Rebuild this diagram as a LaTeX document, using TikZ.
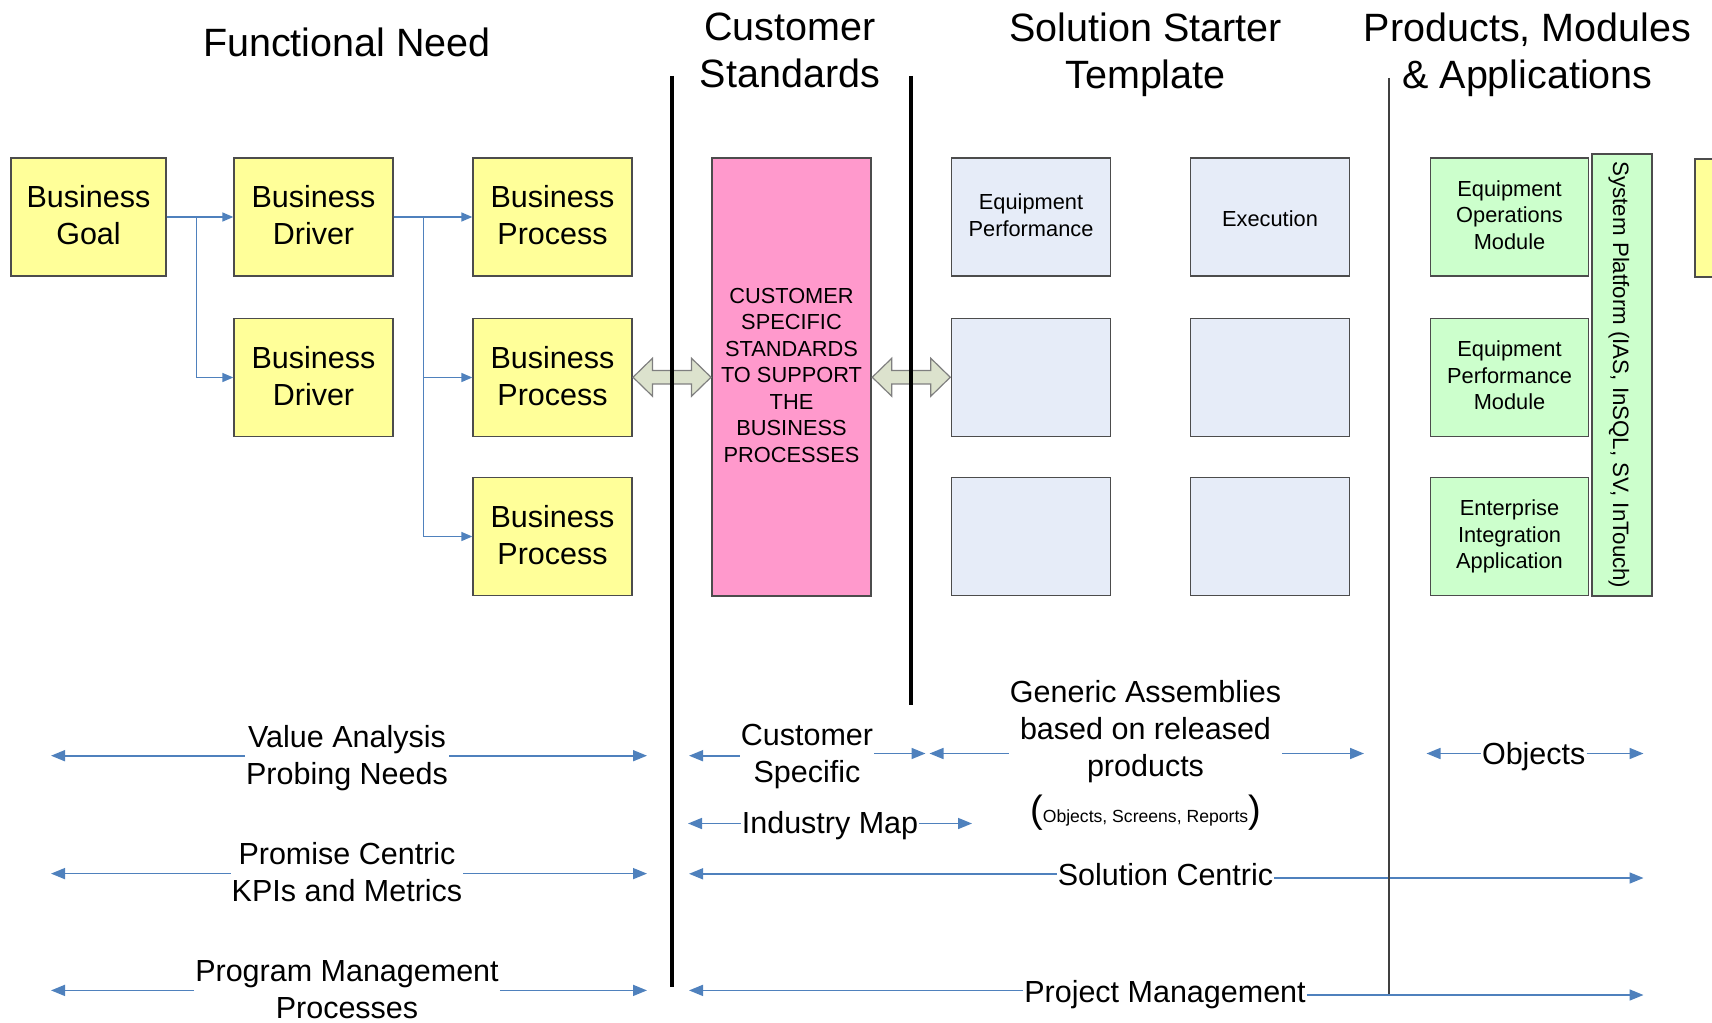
\documentclass[tikz,border=0pt]{standalone}
\usepackage{fontspec}
\setmainfont{Liberation Sans}
\usetikzlibrary{arrows.meta,calc}
\definecolor{yfill}{HTML}{FFFF99}
\definecolor{pfill}{HTML}{FF99CC}
\definecolor{bfill}{HTML}{E6ECF8}
\definecolor{gfill}{HTML}{CCFFCC}
\definecolor{aroblue}{HTML}{4F81BD}
\definecolor{afill}{HTML}{DCE2CD}
\definecolor{aedge}{HTML}{7F7F7F}
\newcommand\FntBox{\fontsize{30.5}{37}\selectfont}
\newcommand\FntTitle{\fontsize{39.5}{47}\selectfont}
\newcommand\FntSmall{\fontsize{21.8}{26.5}\selectfont}
\newcommand\FntSys{\fontsize{22.3}{26.5}\selectfont}
\newcommand\FntTiny{\fontsize{17.6}{21}\selectfont}
\newcommand\FntParen{\fontsize{38}{40}\selectfont}
\newcommand\BigTopStrut{\rule{0pt}{0.9\baselineskip}}
\newcommand\BigBotStrut{\rule[-0.1\baselineskip]{0pt}{0pt}}
\newcommand\SmlTopStrut{\rule{0pt}{0.85\baselineskip}}
\newcommand\SmlBotStrut{\rule[-0.15\baselineskip]{0pt}{0pt}}
\tikzset{
  boxbase/.style={draw=black!70, line width=1.3pt, minimum width=159pt, minimum height=118pt,
    align=center, inner sep=2pt},
  ybox/.style={boxbase, fill=yfill, font=\FntBox, execute at begin node=\BigTopStrut, execute at end node=\BigBotStrut},
  smlbox/.style={boxbase, font=\FntSmall, execute at begin node=\SmlTopStrut, execute at end node=\SmlBotStrut},
  pbox/.style={smlbox, fill=pfill, minimum height=438pt},
  bbox/.style={smlbox, fill=bfill},
  gbox/.style={smlbox, fill=gfill, minimum width=158pt},
  lbl/.style={align=center, inner sep=1pt, font=\FntBox, execute at begin node=\strut, execute at end node=\strut},
  ttl/.style={align=center, inner sep=0pt, font=\FntTitle, execute at begin node=\strut, execute at end node=\strut},
  conn/.style={draw=aroblue, line width=1.5pt, -{Triangle[length=11pt,width=9pt]}},
  barrow/.style={draw=aroblue, line width=1.6pt, -{Triangle[length=14pt,width=11pt]}},
  blockarrow/.style={draw=aedge, fill=afill, line width=1.2pt, line join=miter},
  divider/.style={line width=4.5pt, black},
  thinline/.style={line width=1.3pt, black!75},
  dblarrow/.pic={\path[blockarrow] (-39,0) -- (-19.5,-19) -- (-19.5,-6.7) -- (19.5,-6.7) -- (19.5,-19) -- (39,0) -- (19.5,19) -- (19.5,6.7) -- (-19.5,6.7) -- (-19.5,19) -- cycle;}
}
\begin{document}
\begin{tikzpicture}[x=1pt,y=-1pt]
\clip (0,0) rectangle (1712,1022);
% titles
\node[ttl] (tfn) at (347,47.2) {Functional Need};
\node[ttl] (tcs) at (790,57.7) {Customer\\Standards};
\node[ttl] (tss) at (1145.5,57.7) {Solution Starter\\Template};
\node[ttl] (tpm) at (1527.5,57.7) {Products, Modules\\\& Applications};
% functional need boxes
\node[ybox, minimum width=155pt] (goal) at (88.5,217) {Business\\Goal};
\node[ybox] (drv1) at (313.5,217) {Business\\Driver};
\node[ybox] (drv2) at (313.5,377.5) {Business\\Driver};
\node[ybox] (proc1) at (552.5,217) {Business\\Process};
\node[ybox] (proc2) at (552.5,377.5) {Business\\Process};
\node[ybox] (proc3) at (552.5,536.5) {Business\\Process};
% customer standards
\node[pbox] (cust) at (791.5,377) {CUSTOMER\\SPECIFIC\\STANDARDS\\TO SUPPORT\\THE\\BUSINESS\\PROCESSES};
% solution starter template
\node[bbox] (b11) at (1031,217) {Equipment\\Performance};
\node[bbox] (b21) at (1270,217) {Execution};
\node[bbox] (b12) at (1031,377.5) {};
\node[bbox] (b22) at (1270,377.5) {};
\node[bbox] (b13) at (1031,536.5) {};
\node[bbox] (b23) at (1270,536.5) {};
% products
\node[gbox] (g1) at (1509.5,217) {Equipment\\Operations\\Module};
\node[gbox] (g2) at (1509.5,377.5) {Equipment\\Performance\\Module};
\node[gbox] (g3) at (1509.5,536.5) {Enterprise\\Integration\\Application};
\node[gbox, font=\FntSys, rotate=-90, minimum width=442pt, minimum height=60pt] (sp) at (1622,375) {System Platform (IAS, InSQL, SV, InTouch)};
\path[draw=black!70, line width=1.3pt, fill=yfill] (1695,159) rectangle (1770,277);
% connectors
\draw[conn] (goal.east) -- (drv1.west);
\draw[conn] (goal.east) -- ++(29.7,0) |- (drv2.west);
\draw[conn] (drv1.east) -- (proc1.west);
\draw[conn] (drv1.east) -- ++(29.6,0) |- (proc2.west);
\draw[conn] (drv1.east) -- ++(29.6,0) |- (proc3.west);
% block arrows
\pic at ($(proc2.east)!0.5!(cust.west)$) {dblarrow};
\pic at ($(cust.east)!0.5!(b12.west)$) {dblarrow};
% dividers
\coordinate (d1t) at (672,76); \coordinate (d1b) at (672,987);
\coordinate (d2t) at (911,76); \coordinate (d2b) at (911,705);
\coordinate (d3t) at (1389,78); \coordinate (d3b) at (1389,994);
\draw[divider] (d1t) -- (d1b);
\draw[divider] (d2t) -- (d2b);
% bottom labels
\node[lbl] (va) at (347,760.5) {Value Analysis\\Probing Needs};
\node[lbl] (csp) at (807,759) {Customer\\Specific};
\node[lbl] (ga) at (1145.5,757) {Generic Assemblies\\based on released\\products\\[9pt]{\FntParen(}{\FntTiny Objects, Screens, Reports}{\FntParen)}};
\node[lbl] (obj) at (1533.7,757.5) {Objects};
\node[lbl] (im) at (830,826.5) {Industry Map};
\node[lbl] (pc) at (347,877) {Promise Centric\\KPIs and Metrics};
\node[lbl] (sc) at (1165.5,878.5) {Solution Centric};
\node[lbl] (pgm) at (347,995) {Program Management\\Processes};
\node[lbl] (pjm) at (1165,995.5) {Project Management};
% free ends
\coordinate (vaL) at (51,755.7); \coordinate (vaR) at (647,755.7);
\coordinate (cspL) at (689,755.7); \coordinate (cspR) at (925.5,753.5);
\coordinate (gaL) at (929.5,753.5); \coordinate (gaR) at (1364,753.5);
\coordinate (objL) at (1426.5,753.5); \coordinate (objR) at (1643.5,753.5);
\coordinate (imL) at (688,823.5); \coordinate (imR) at (972,823.5);
\coordinate (pcL) at (51,873.6); \coordinate (pcR) at (647,873.6);
\coordinate (scL) at (689,873.8); \coordinate (scR) at (1643.5,878);
\coordinate (pgL) at (51,990.4); \coordinate (pgR) at (647,990.4);
\coordinate (pjL) at (689,990.4); \coordinate (pjR) at (1643.5,995);
\draw[barrow] (va.west |- vaL) -- (vaL);
\draw[barrow] (va.east |- vaR) -- (vaR);
\draw[barrow] (csp.west |- cspL) -- (cspL);
\draw[barrow] (csp.east |- cspR) -- (cspR);
\draw[barrow] (ga.west |- gaL) -- (gaL);
\draw[barrow] (ga.east |- gaR) -- (gaR);
\draw[barrow] (obj.west |- objL) -- (objL);
\draw[barrow] (obj.east |- objR) -- (objR);
\draw[barrow] (im.west |- imL) -- (imL);
\draw[barrow] (im.east |- imR) -- (imR);
\draw[barrow] (pc.west |- pcL) -- (pcL);
\draw[barrow] (pc.east |- pcR) -- (pcR);
\draw[barrow] (sc.west |- scL) -- (scL);
\draw[barrow] (sc.east |- scR) -- (scR);
\draw[barrow] (pgm.west |- pgL) -- (pgL);
\draw[barrow] (pgm.east |- pgR) -- (pgR);
\draw[barrow] (pjm.west |- pjL) -- (pjL);
\draw[barrow] (pjm.east |- pjR) -- (pjR);
\draw[thinline] (d3t) -- (d3b);
\end{tikzpicture}
\end{document}
